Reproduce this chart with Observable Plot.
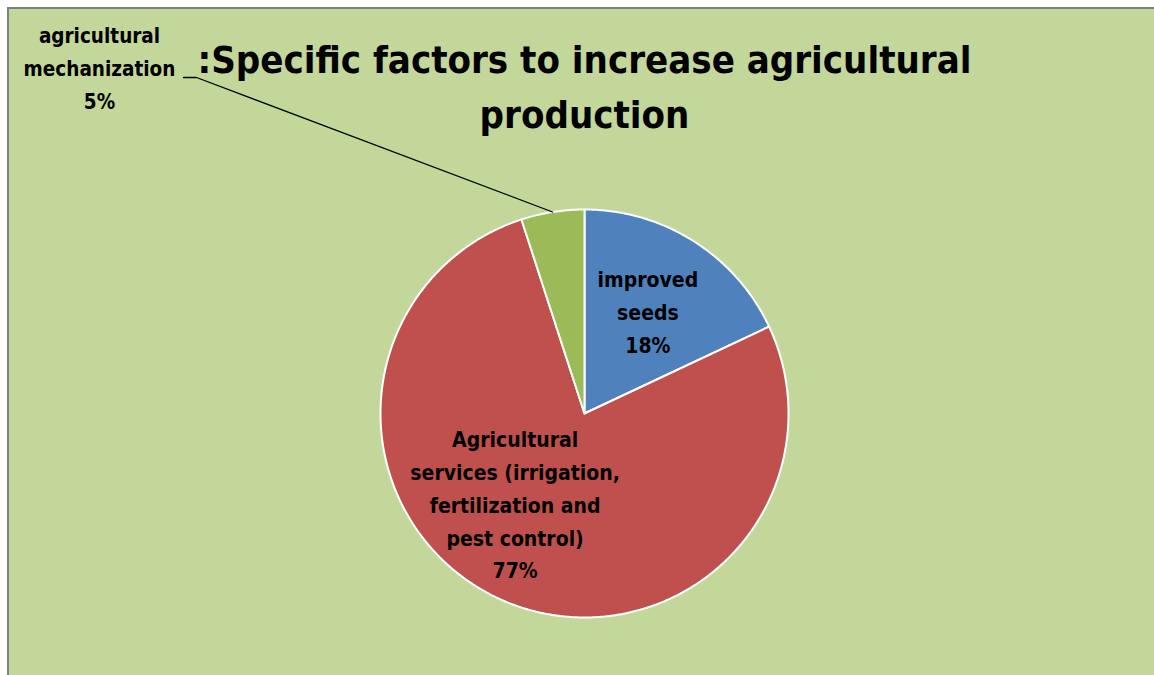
<!DOCTYPE html>
<html><head><meta charset="utf-8">
<script src="https://cdn.jsdelivr.net/npm/d3@7"></script>
<script src="https://cdn.jsdelivr.net/npm/@observablehq/plot@0.6"></script>
<style>
html,body{margin:0;padding:0;background:#fff;overflow:hidden;}
#frame{position:absolute;left:7px;top:7px;width:1170px;height:690px;background:#c4d79b;border-left:2px solid #808080;border-top:2px solid #808080;}
#chart{position:absolute;left:0;top:0;}
</style></head>
<body>
<div id="frame"></div>
<div id="chart"></div>
<script>
// data
const categories = ["improved\nseeds", "Agricultural\nservices (irrigation,\nfertilization and\npest control)", "agricultural\nmechanization"];
const values = [18, 77, 5];
const colors = ["#4f81bd", "#c0504d", "#9bbb59"];
const title = ":Specific factors to increase agricultural\nproduction";

// layout
const W = 1154, H = 675, CX = 584, CY = 413, R = 204;
const FONT = "'DejaVu Sans Condensed', 'Liberation Sans Narrow', sans-serif";

const arcs = d3.pie().sort(null).value(d => d.value)(categories.map((c, i) => ({name: c, value: values[i], color: colors[i]})));
const total = d3.sum(values);

function slicePts(a) {
  const pts = [{x: 0, y: 0}];
  const n = Math.max(2, Math.ceil((a.endAngle - a.startAngle) / 0.01));
  for (let k = 0; k <= n; k++) {
    const t = a.startAngle + (a.endAngle - a.startAngle) * k / n;
    pts.push({x: Math.sin(t), y: Math.cos(t)});
  }
  pts.push({x: 0, y: 0});
  return pts;
}
const circle = d3.range(0, 361).map(k => ({x: Math.sin(k * Math.PI / 180), y: Math.cos(k * Math.PI / 180)}));

const pct = a => Math.round(a.data.value / total * 100) + "%";
const mid = a => (a.startAngle + a.endAngle) / 2;

// inside labels: radial fraction and pixel nudges (layout)
const inside = [
  {i: 0, r: 0.58, dx: 0, dy: -4},
  {i: 1, r: 0.56, dx: -24, dy: -16}
];
const insideLabels = inside.map(o => {
  const a = arcs[o.i];
  return {x: o.r * Math.sin(mid(a)), y: o.r * Math.cos(mid(a)), dx: o.dx, dy: o.dy, text: a.data.name + "\n" + pct(a)};
});

// outside label for small slice
const g = arcs[2];
const edge = {x: Math.sin(mid(g)), y: Math.cos(mid(g))};
const elbow = {x: (196 - CX) / R, y: (CY - 77) / R};
const tail = {x: (183 - CX) / R, y: (CY - 77) / R};
const outLabel = [{x: (99 - CX) / R, y: (CY - 65) / R, text: g.data.name + "\n" + pct(g)}];

const marks = [
  Plot.line(circle, {x: "x", y: "y", fill: "#3b4a24", stroke: "none", ariaLabel: "shadow", dy: 5})
];
arcs.forEach(a => {
  marks.push(Plot.line(slicePts(a), {x: "x", y: "y", fill: a.data.color, stroke: "white", strokeWidth: 2, strokeLinejoin: "round"}));
});
marks.push(
  Plot.line([edge, elbow, tail], {x: "x", y: "y", stroke: "black", strokeWidth: 1.3}),
  ...insideLabels.map(l => Plot.text([l], {x: "x", y: "y", dx: l.dx, dy: l.dy, text: "text", fill: "black", fontSize: 21, fontWeight: "bold", lineHeight: 1.56, fontFamily: FONT})),
  Plot.text(outLabel, {x: "x", y: "y", text: "text", fill: "black", fontSize: 20.5, fontWeight: "bold", lineHeight: 1.6, fontFamily: FONT}),
  Plot.text([title], {x: () => 0, frameAnchor: "top", dy: 33, text: d => d, fill: "black", fontSize: 38, fontWeight: "bold", lineHeight: 1.45, fontFamily: FONT, textAnchor: "middle", lineAnchor: "top"})
);

const chart = Plot.plot({
  width: W, height: H,
  margin: 0,
  style: {background: "transparent", overflow: "visible"},
  x: {domain: [-CX / R, (W - CX) / R], axis: null},
  y: {domain: [-(H - CY) / R, CY / R], axis: null},
  marks
});

const svg = d3.select(chart);
const defs = svg.insert("defs", ":first-child");
const f = defs.append("filter").attr("id", "sh").attr("x", "-20%").attr("y", "-20%").attr("width", "140%").attr("height", "140%");
f.append("feGaussianBlur").attr("stdDeviation", 4);
svg.select('g[aria-label="shadow"]').attr("filter", "url(#sh)").attr("opacity", 0.5);

document.getElementById("chart").appendChild(chart);
</script>
</body></html>
